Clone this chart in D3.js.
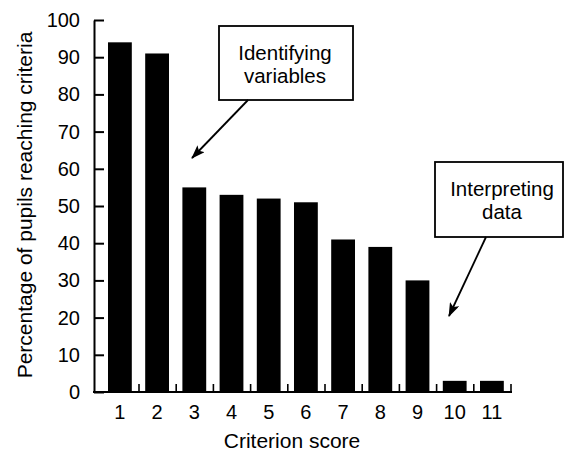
<!DOCTYPE html>
<html>
<head>
<meta charset="utf-8">
<script src="https://cdn.jsdelivr.net/npm/d3@7"></script>
<style>
  html, body { margin: 0; padding: 0; background: #fff; }
  svg { display: block; }
  text { font-family: "Liberation Sans", Arial, Helvetica, sans-serif; fill: #000; }
</style>
</head>
<body>
<svg id="chart" width="565" height="452"></svg>
<script>
// ---- data ----
const categories = ["1", "2", "3", "4", "5", "6", "7", "8", "9", "10", "11"];
const values = [94, 91, 55, 53, 52, 51, 41, 39, 30, 3, 3];
const yTicks = [0, 10, 20, 30, 40, 50, 60, 70, 80, 90, 100];
const xTitle = "Criterion score";
const yTitle = "Percentage of pupils reaching criteria";
const annotations = [
  { lines: ["Identifying", "variables"], target: "3", value: 67 },
  { lines: ["Interpreting", "data"], target: "10", value: 20 }
];

// ---- layout ----
const svg = d3.select("#chart");
const axisX = 94, plotTop = 20, plotBottom = 392;
const bandLeft = 101.3, bandRight = 510.5;

const y = d3.scaleLinear().domain([0, 100]).range([plotBottom, plotTop]);
const x = d3.scaleBand().domain(categories).range([bandLeft, bandRight])
  .paddingInner(0.36).paddingOuter(0.18);
const xl = d3.scaleLinear().domain([0.5, categories.length + 0.5]).range([bandLeft, bandRight]);

// bars
svg.append("g").selectAll("rect").data(values).join("rect")
  .attr("x", (d, i) => x(categories[i]))
  .attr("y", d => y(d))
  .attr("width", x.bandwidth())
  .attr("height", d => y(0) - y(d))
  .attr("fill", "#000");

// y axis (ticks inward)
const yAxis = svg.append("g").attr("transform", `translate(${axisX},0)`)
  .call(d3.axisLeft(y).tickValues(yTicks).tickSize(-10).tickSizeOuter(0).tickPadding(14));
yAxis.selectAll("path, line").attr("stroke", "#000").attr("stroke-width", 2);
yAxis.selectAll("text").attr("font-size", 20).style("font-family", "Liberation Sans, Arial, sans-serif");

// x baseline
svg.append("line")
  .attr("x1", axisX - 1).attr("x2", xl(categories.length + 0.5) + 1.5)
  .attr("y1", plotBottom).attr("y2", plotBottom)
  .attr("stroke", "#000").attr("stroke-width", 2);

// x ticks between bars (pointing up)
const boundaries = categories.map((c, i) => i + 1.5);
const xTickAxis = svg.append("g").attr("transform", `translate(0,${plotBottom})`)
  .call(d3.axisBottom(xl).tickValues(boundaries).tickSize(-8).tickFormat(""));
xTickAxis.select(".domain").remove();
xTickAxis.selectAll("line").attr("stroke", "#000").attr("stroke-width", 1.6);

// x labels
const xLab = svg.append("g").attr("transform", `translate(0,${plotBottom})`)
  .call(d3.axisBottom(x).tickSize(0).tickPadding(13));
xLab.select(".domain").remove();
xLab.selectAll("text").attr("font-size", 20).style("font-family", "Liberation Sans, Arial, sans-serif");

// titles
svg.append("text").attr("x", 292).attr("y", 448)
  .attr("text-anchor", "middle").attr("font-size", 21).text(xTitle);
svg.append("text").attr("transform", "translate(32,205) rotate(-90)")
  .attr("text-anchor", "middle").attr("font-size", 21).text(yTitle);

// arrow marker
svg.append("defs").append("marker")
  .attr("id", "arrow").attr("viewBox", "0 0 14 10").attr("refX", 13).attr("refY", 5)
  .attr("markerWidth", 14).attr("markerHeight", 10).attr("markerUnits", "userSpaceOnUse")
  .attr("orient", "auto")
  .append("path").attr("d", "M0,0 L14,5 L0,10 L3,5 Z").attr("fill", "#000");

// annotation boxes
const boxes = [
  { x: 219, y: 26, w: 134, h: 74, tx: 285, ty: [60, 83], from: [248, 100], to: [192, 158] },
  { x: 435, y: 162, w: 128, h: 75, tx: 502, ty: [196, 219], from: [486, 237], to: [449, 316] }
];
annotations.forEach((a, i) => {
  const b = boxes[i];
  svg.append("rect").attr("x", b.x).attr("y", b.y).attr("width", b.w).attr("height", b.h)
    .attr("fill", "#fff").attr("stroke", "#000").attr("stroke-width", 1.8);
  a.lines.forEach((t, j) => {
    svg.append("text").attr("x", b.tx).attr("y", b.ty[j]).attr("text-anchor", "middle")
      .attr("font-size", 20.5).text(t);
  });
  svg.append("line").attr("x1", b.from[0]).attr("y1", b.from[1])
    .attr("x2", b.to[0]).attr("y2", b.to[1])
    .attr("stroke", "#000").attr("stroke-width", 1.8).attr("marker-end", "url(#arrow)");
});
</script>
</body>
</html>
